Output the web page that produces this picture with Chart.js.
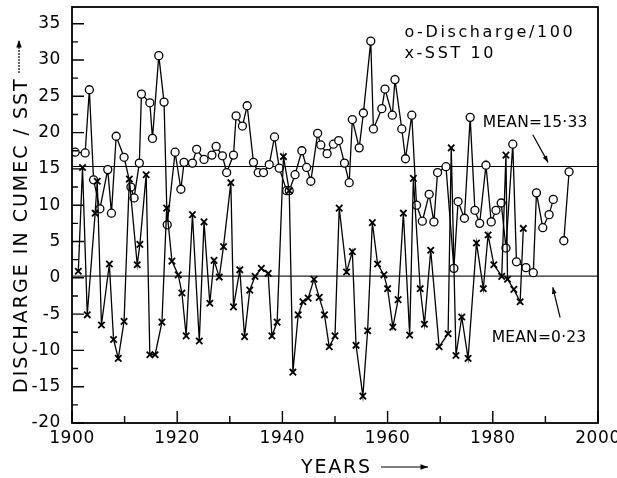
<!DOCTYPE html>
<html>
<head>
<meta charset="utf-8">
<script src="https://cdn.jsdelivr.net/npm/chart.js@4.4.1/dist/chart.umd.min.js"></script>
<style>
  html, body { margin: 0; padding: 0; background: #fff; }
  #wrap { width: 617px; height: 478px; }
</style>
</head>
<body>
<div id="wrap"><canvas id="chart" width="617" height="478"></canvas></div>
<script>
// discharge / 100
const dischargeYears = [1900.6, 1902.5, 1903.3, 1904.1, 1905.3, 1906.8, 1907.5, 1908.4, 1909.9, 1911.2,
  1911.8, 1912.8, 1913.2, 1914.8, 1915.3, 1916.5, 1917.5, 1918.1, 1919.6, 1920.7,
  1921.3, 1922.9, 1923.7, 1925.1, 1926.6, 1927.4, 1928.6, 1929.4, 1930.7, 1931.2,
  1932.4, 1933.3, 1934.5, 1935.4, 1936.4, 1937.5, 1938.5, 1939.4, 1940.8, 1941.3,
  1942.4, 1943.7, 1944.6, 1945.4, 1946.7, 1947.3, 1948.5, 1949.7, 1950.7, 1951.8,
  1952.7, 1953.3, 1954.6, 1955.4, 1956.8, 1957.3, 1958.9, 1959.5, 1960.9, 1961.4,
  1962.7, 1963.4, 1964.6, 1965.5, 1966.6, 1967.9, 1968.8, 1969.5, 1971.1, 1972.6,
  1973.4, 1974.6, 1975.7, 1976.6, 1977.5, 1978.7, 1979.7, 1980.6, 1981.6, 1982.5,
  1983.8, 1984.5, 1986.3, 1987.7, 1988.3, 1989.5, 1990.7, 1991.5, 1992.5, 1993.5, 1994.5];
const dischargeValues = [17.3, 17.2, 25.9, 13.5, 9.5, 14.9, 8.9, 19.5, 16.6, 12.5,
  11.0, 15.8, 25.3, 24.1, 19.2, 30.6, 24.2, 7.3, 17.3, 12.2,
  15.9, 15.8, 17.7, 16.3, 16.9, 18.1, 16.8, 14.5, 16.9, 22.3,
  20.9, 23.7, 15.9, 14.5, 14.5, 15.6, 19.4, 15.1, 12.0, 12.0,
  14.2, 17.5, 15.2, 13.3, 19.9, 18.3, 17.1, 18.4, 18.9, 15.8,
  13.1, 21.8, 17.9, 22.7, 32.6, 20.5, 23.3, 26.0, 22.4, 27.3,
  20.5, 16.4, 22.4, 10.0, 7.8, 11.5, 7.7, 14.5, 15.3, 1.3,
  10.5, 8.2, 22.1, 9.3, 7.5, 15.5, 7.7, 9.3, 10.3, 4.1,
  18.4, 2.2, 1.4, 0.7, 11.7, 6.9, 8.7, 10.8, null, 5.1, 14.6];

// SST x 10
const sstYears = [1901.2, 1902.0, 1902.9, 1904.4, 1904.8, 1905.6, 1907.1, 1907.9, 1908.8, 1909.9,
  1910.9, 1912.4, 1912.9, 1914.1, 1914.8, 1915.8, 1917.1, 1918.0, 1919.0, 1920.2,
  1920.9, 1921.7, 1922.9, 1924.2, 1925.1, 1926.2, 1927.0, 1928.0, 1928.8, 1930.2,
  1930.7, 1931.9, 1932.8, 1933.8, 1934.8, 1936.0, 1937.3, 1938.0, 1939.0, 1940.2,
  1941.3, 1942.0, 1943.0, 1943.9, 1944.9, 1946.0, 1947.0, 1948.0, 1948.9, 1950.0,
  1950.8, 1952.2, 1953.3, 1954.0, 1955.3, 1956.2, 1957.1, 1958.1, 1959.3, 1960.0,
  1961.0, 1962.0, 1963.0, 1964.2, 1964.9, 1966.2, 1967.0, 1968.2, 1969.8, 1971.5,
  1972.1, 1973.0, 1974.1, 1975.3, 1976.9, 1978.2, 1979.1, 1980.2, 1981.7, 1982.5,
  1982.8, 1984.0, 1985.2, 1985.8];
const sstValues = [0.9, 15.2, -5.1, 8.9, 13.3, -6.5, 1.9, -8.5, -11.1, -6.0,
  13.6, 1.8, 4.6, 14.2, -10.6, -10.6, -6.1, 9.6, 2.3, 0.4,
  -2.1, -8.0, 8.7, -8.7, 7.7, -3.5, 2.4, 0.1, 4.3, 13.1,
  -4.0, 1.1, -8.1, -1.7, 0.2, 1.3, 0.6, -8.0, -6.1, 16.7,
  12.0, -13.0, -5.1, -3.3, -2.8, -0.2, -2.7, -5.1, -9.5, -8.0,
  9.6, 0.8, 3.6, -9.3, -16.3, -7.3, 7.6, 1.9, 0.4, -1.5,
  -6.8, -3.0, 8.9, -7.9, 13.7, -1.5, -6.4, 3.8, -9.5, -7.7,
  17.9, -10.7, -5.4, -11.1, 4.8, -1.5, 5.9, 1.8, 0.2, 16.9,
  -0.2, -1.6, -3.3, 6.8];

const meanDischarge = 15.33;
const meanSst = 0.23;

const xTickLabels = [1900, 1920, 1940, 1960, 1980, 2000];
const xTickMarks = [1900, 1910, 1920, 1930, 1940, 1950, 1960, 1970, 1980, 1990, 2000];
const yTickLabels = [-20, -15, -10, -5, 0, 5, 10, 15, 20, 25, 30, 35];
const yTickMarks = [-20, -17.5, -15, -12.5, -10, -7.5, -5, -2.5, 0, 2.5, 5, 7.5, 10, 12.5, 15, 17.5, 20, 22.5, 25, 27.5, 30, 32.5, 35];

const legendLines = ['o-Discharge/100', 'x-SST 10'];
const meanLabels = ['MEAN=15\u00b733', 'MEAN=0\u00b723'];

const FONT = '"DejaVu Sans", sans-serif';

function pairs(xs, ys) {
  return xs.map((x, i) => ({ x, y: ys[i] }));
}

function arrow(ctx, x1, y1, x2, y2, head) {
  const ang = Math.atan2(y2 - y1, x2 - x1);
  ctx.beginPath();
  ctx.moveTo(x1, y1);
  ctx.lineTo(x2, y2);
  ctx.stroke();
  ctx.beginPath();
  ctx.moveTo(x2, y2);
  ctx.lineTo(x2 - head * Math.cos(ang - 0.35), y2 - head * Math.sin(ang - 0.35));
  ctx.lineTo(x2 - head * Math.cos(ang + 0.35), y2 - head * Math.sin(ang + 0.35));
  ctx.closePath();
  ctx.fill();
}

function text(ctx, str, px, py, size, spacing) {
  ctx.font = size + 'px ' + FONT;
  ctx.letterSpacing = spacing + 'px';
  ctx.fillText(str, px, py);
}

const decorations = {
  id: 'decorations',
  beforeDraw(chart) {
    chart.ctx.letterSpacing = '0.6px';
  },
  afterDraw(chart) {
    const { ctx, chartArea: a, scales: { x, y } } = chart;
    ctx.save();
    ctx.strokeStyle = '#000';
    ctx.fillStyle = '#000';

    // frame and inward ticks
    ctx.lineWidth = 1.8;
    ctx.strokeRect(a.left, a.top, a.right - a.left, a.bottom - a.top);
    ctx.lineWidth = 1.4;
    ctx.beginPath();
    yTickMarks.forEach((v) => {
      const py = y.getPixelForValue(v);
      ctx.moveTo(a.left, py);
      ctx.lineTo(a.left + (v % 5 === 0 ? 12 : 6), py);
    });
    xTickMarks.forEach((v) => {
      const px = x.getPixelForValue(v);
      ctx.moveTo(px, a.bottom);
      ctx.lineTo(px, a.bottom - (v % 20 === 0 ? 12 : 7));
    });
    ctx.stroke();

    // legend and mean labels
    ctx.textAlign = 'left';
    ctx.textBaseline = 'alphabetic';
    text(ctx, legendLines[0], x.getPixelForValue(1963.2), y.getPixelForValue(33.1), 16, 2.6);
    text(ctx, legendLines[1], x.getPixelForValue(1963.2), y.getPixelForValue(30.3), 16, 2.6);
    text(ctx, meanLabels[0], x.getPixelForValue(1978.1), y.getPixelForValue(20.8), 15.5, 0.2);
    text(ctx, meanLabels[1], x.getPixelForValue(1979.8), y.getPixelForValue(-8.8), 15.5, 0.2);

    ctx.lineWidth = 1.2;
    arrow(ctx, x.getPixelForValue(1987.6), y.getPixelForValue(19.7),
      x.getPixelForValue(1990.5), y.getPixelForValue(15.9), 7);
    arrow(ctx, x.getPixelForValue(1992.8), y.getPixelForValue(-5.5),
      x.getPixelForValue(1991.4), y.getPixelForValue(-1.3), 7);

    // axis titles
    text(ctx, 'YEARS', a.left + 229, a.bottom + 50, 19, 1.8);
    arrow(ctx, a.left + 309, a.bottom + 44, a.left + 356, a.bottom + 44, 8);

    ctx.save();
    ctx.translate(27, a.bottom - 30);
    ctx.rotate(-Math.PI / 2);
    text(ctx, 'DISCHARGE IN CUMEC / SST', 0, 0, 19, 2.0);
    ctx.restore();
    ctx.setLineDash([2, 1]);
    arrow(ctx, 19, 73, 19, 40, 8);
    ctx.restore();
  }
};

new Chart(document.getElementById('chart'), {
  type: 'line',
  data: {
    datasets: [
      {
        label: 'SST 10',
        data: pairs(sstYears, sstValues),
        borderColor: '#000',
        borderWidth: 1.3,
        pointStyle: 'crossRot',
        pointRadius: 4.5,
        pointBorderWidth: 1.8,
        pointBorderColor: '#000',
        tension: 0
      },
      {
        label: 'Discharge/100',
        data: pairs(dischargeYears, dischargeValues),
        borderColor: '#000',
        borderWidth: 1.3,
        pointStyle: 'circle',
        pointRadius: 4,
        pointBorderWidth: 1.3,
        pointBorderColor: '#000',
        pointBackgroundColor: '#fff',
        spanGaps: false,
        tension: 0
      },
      {
        label: 'mean discharge',
        data: [{ x: 1900, y: meanDischarge }, { x: 2000, y: meanDischarge }],
        borderColor: '#000',
        borderWidth: 1.2,
        pointRadius: 0
      },
      {
        label: 'mean SST',
        data: [{ x: 1900, y: meanSst }, { x: 2000, y: meanSst }],
        borderColor: '#222',
        borderWidth: 1.2,
        pointRadius: 0
      }
    ]
  },
  options: {
    responsive: false,
    animation: false,
    devicePixelRatio: 1,
    events: [],
    layout: { padding: { top: 7, right: 19, left: 0, bottom: 0 } },
    plugins: {
      legend: { display: false },
      tooltip: { enabled: false }
    },
    scales: {
      x: {
        type: 'linear',
        min: 1900,
        max: 2000,
        grid: { display: false, drawTicks: false },
        border: { display: false },
        afterBuildTicks: (s) => { s.ticks = xTickLabels.map((v) => ({ value: v })); },
        afterFit: (s) => {
          s.height = 55;
          s.paddingLeft = 0;
          s.paddingRight = 0;
        },
        ticks: {
          padding: 5,
          color: '#000',
          font: { family: FONT, size: 17 },
          maxRotation: 0,
          callback: (v) => String(v)
        }
      },
      y: {
        min: -20,
        max: 37.3,
        grid: { display: false, drawTicks: false },
        border: { display: false },
        afterBuildTicks: (s) => { s.ticks = yTickLabels.map((v) => ({ value: v })); },
        afterFit: (s) => {
          s.width = 72;
          s.paddingTop = 0;
          s.paddingBottom = 0;
        },
        ticks: {
          padding: 11,
          color: '#000',
          font: { family: FONT, size: 17 },
          callback: (v) => String(v)
        }
      }
    }
  },
  plugins: [decorations]
});
</script>
</body>
</html>
